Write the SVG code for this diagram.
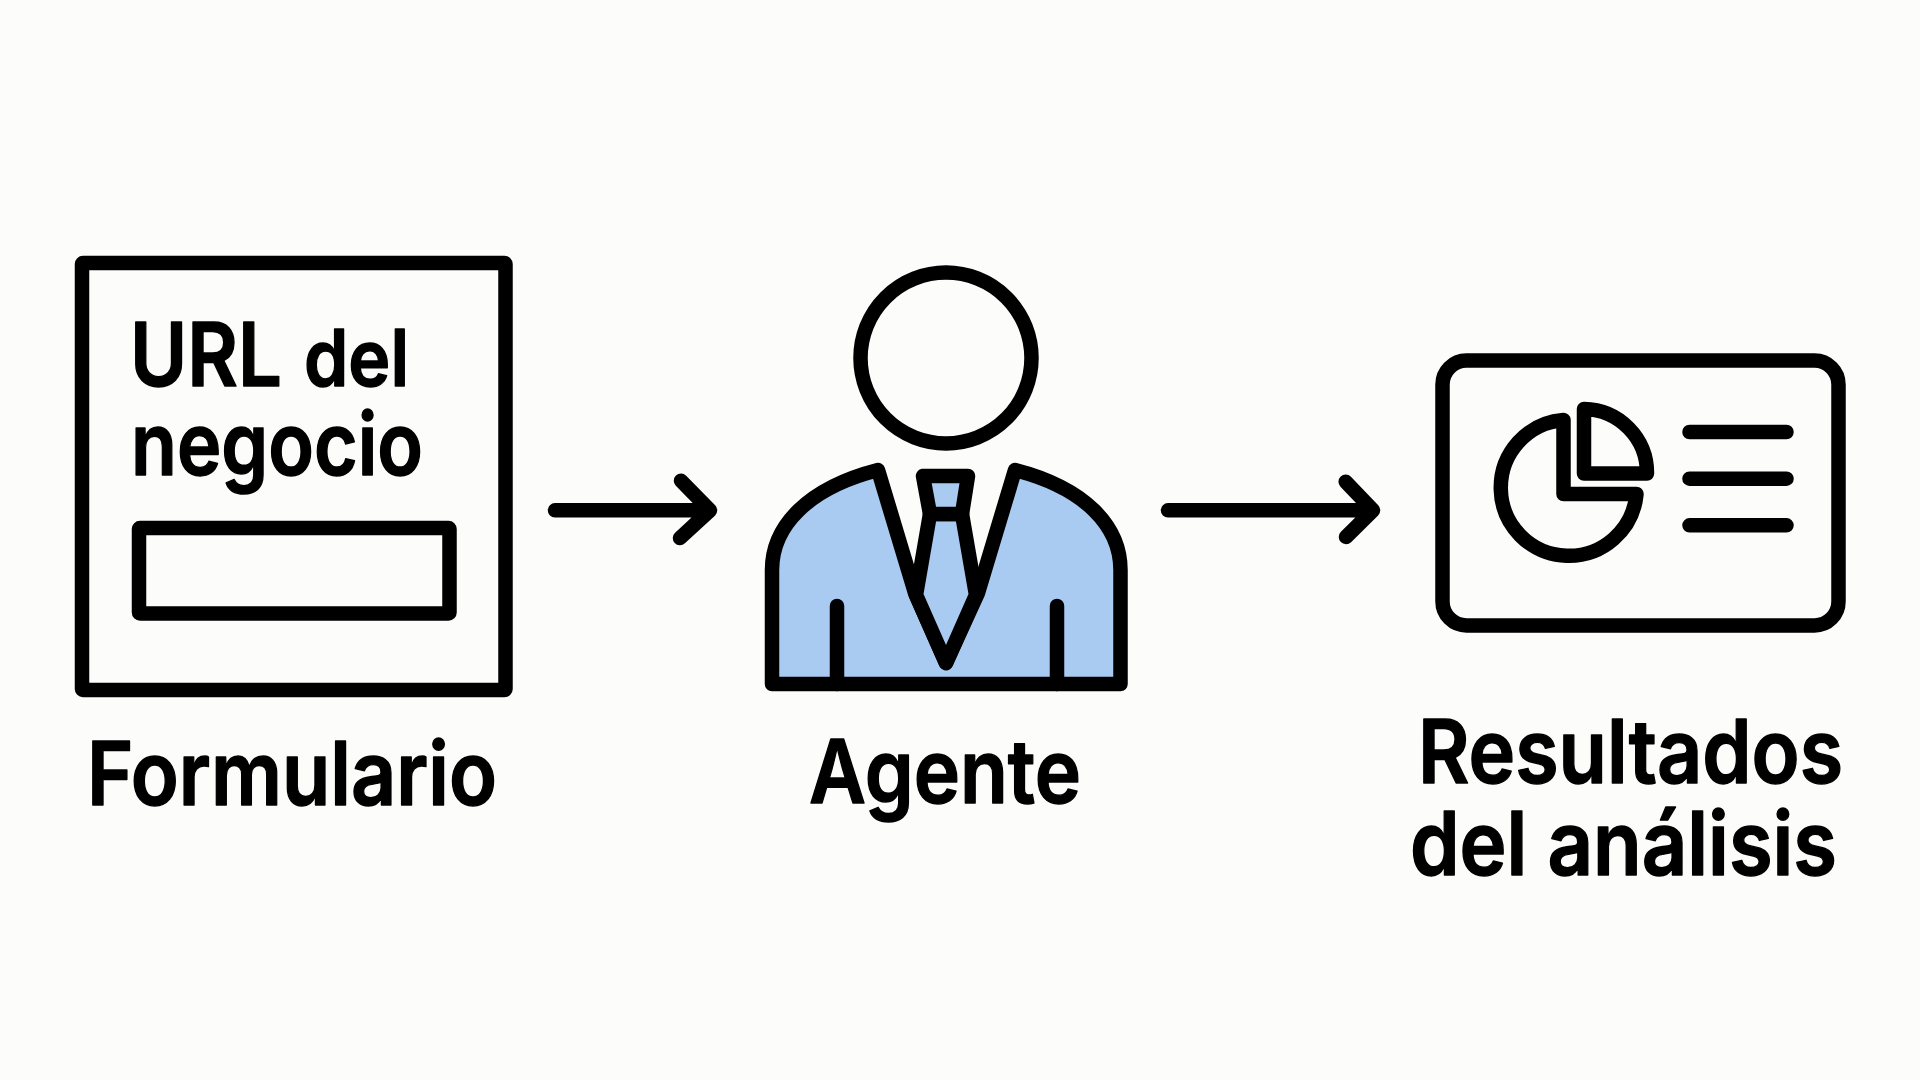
<svg xmlns="http://www.w3.org/2000/svg" width="1920" height="1080" viewBox="0 0 1920 1080">
<style>
.ln{fill:none;stroke:#000;stroke-width:14.5;stroke-linecap:round;stroke-linejoin:round}
.bl{fill:#a9cbf2;stroke:#000;stroke-width:14.5;stroke-linecap:round;stroke-linejoin:round}
text{font-family:Inter,"Liberation Sans",sans-serif;font-weight:600;fill:#000;stroke:#000;stroke-width:1.4;stroke-linejoin:round}
</style>
<rect width="1920" height="1080" fill="#fcfcfa"/>
<g id="form">
<rect class="ln" x="82" y="263" width="423.500" height="427" rx="1"/>
<text font-size="88"><tspan x="130" y="385.500" textLength="152" lengthAdjust="spacingAndGlyphs">URL</tspan><tspan x="304" y="385.500" font-size="78" textLength="105" lengthAdjust="spacingAndGlyphs">del</tspan><tspan x="131" y="474.500" font-size="87" textLength="292" lengthAdjust="spacingAndGlyphs">negocio</tspan></text>
<rect class="ln" x="139" y="528" width="310.500" height="85.500" rx="1"/>
<text x="87" y="804.500" font-size="88" textLength="410" lengthAdjust="spacingAndGlyphs">Formulario</text>
</g>
<g id="agent">
<circle class="ln" cx="946" cy="358" r="85.500"/>
<path class="bl" d="M772 684V570C772 526 808 488 878 470L915 593L946 663L978 593L1015 470C1085 488 1120.500 526 1120.500 570V684Z"/>
<path class="bl" d="M930 514L916 595L946 663L976 595L962 514Z"/>
<path class="bl" d="M923 476H968L962 514H930Z"/>
<path class="ln" d="M837 606V684M1057 606V684"/>
<text x="809" y="803" font-size="88" textLength="272" lengthAdjust="spacingAndGlyphs">Agente</text>
</g>
<g id="results">
<rect class="ln" x="1442.500" y="360.500" width="396" height="265" rx="24"/>
<path class="ln" d="M1563.500 420V494H1636.500A68 68 0 1 1 1563.500 420Z"/>
<path class="ln" d="M1584 409V473.500H1647A64 64 0 0 0 1584 409Z"/>
<path class="ln" d="M1689.500 432H1786.500M1689.500 478.700H1786.500M1689.500 525.300H1786.500"/>
<text font-size="88"><tspan x="1418" y="783" textLength="425" lengthAdjust="spacingAndGlyphs">Resultados</tspan><tspan x="1410" y="875" textLength="427" lengthAdjust="spacingAndGlyphs">del análisis</tspan></text>
</g>
<g id="connectors">
<path class="ln" d="M555 510.300H710M681 480.700L710 510.300L680 538"/>
<path class="ln" d="M1168 510.300H1373M1345.700 481.700L1373 510.300L1346 537"/>
</g>
</svg>
